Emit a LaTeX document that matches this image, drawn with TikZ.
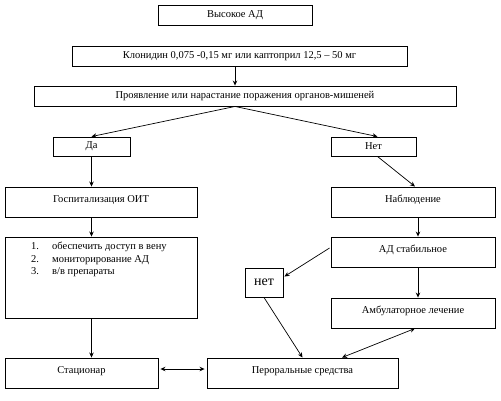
\documentclass[tikz,border=0pt]{standalone}
\usepackage{fontspec}
\setmainfont{Liberation Serif}
\usetikzlibrary{arrows.meta,calc}
\begin{document}
\begin{tikzpicture}[x=1pt,y=-1pt,
  box/.style={draw=black, line width=0.9pt, inner sep=0pt, font=\fontsize{10.5}{12}\selectfont},
  arr/.style={line width=0.7pt, -{Stealth[length=5pt,width=4.5pt]}},
  darr/.style={line width=0.7pt, {Stealth[length=5pt,width=4.5pt]}-{Stealth[length=5pt,width=4.5pt]}},
  up/.style={label={[font=\fontsize{10.5}{12}\selectfont, yshift=2pt]center:#1}}]
\useasboundingbox (0,0) rectangle (501,400);
\node[box, minimum width=154pt, minimum height=20pt] (b1) at (235,15) {Высокое АД};
\node[box, minimum width=335pt, minimum height=20pt] (b2) at (239.5,56) {Клонидин 0,075 -0,15 мг или каптоприл 12,5 – 50 мг};
\node[box, minimum width=422pt, minimum height=20pt] (b3) at (245,96) {Проявление или нарастание поражения органов-мишеней};
\node[box, minimum width=77pt, minimum height=19pt] (da) at (91.5,146.5) {Да};
\node[box, minimum width=85pt, minimum height=19pt] (net) at (373.5,146.5) {Нет};
\node[box, minimum width=192pt, minimum height=30pt, up={Госпитализация ОИТ}] (gosp) at (101,202) {};
\node[box, minimum width=192pt, minimum height=81pt] (list) at (101,277.5) {};
\node[anchor=north west, inner sep=0pt, font=\fontsize{10.5}{12.5}\selectfont, align=left] (items) at (31,242)
  {\makebox[21pt][l]{1.}обеспечить доступ в вену\\
   \makebox[21pt][l]{2.}мониторирование АД\\
   \makebox[21pt][l]{3.}в/в препараты};
\node[box, minimum width=153pt, minimum height=30pt, up={Стационар}] (stac) at (81.5,373) {};
\node[box, minimum width=191pt, minimum height=30pt, up={Пероральные средства}] (pero) at (302.5,373) {};
\node[box, minimum width=164pt, minimum height=30pt, up={Наблюдение}] (nabl) at (413,202) {};
\node[box, minimum width=164pt, minimum height=30pt, up={АД стабильное}] (adst) at (413,252) {};
\node[box, minimum width=38pt, minimum height=29pt, font=\fontsize{14}{16}\selectfont] (net2) at (264,282.5) {нет};
\node[box, minimum width=164pt, minimum height=30pt, up={Амбулаторное лечение}] (amb) at (413,313) {};
\draw[arr] (b2.south -| b1.center) -- (b3.north -| b1.center);
\draw[arr] (b3.south -| b1.center) -- (da.north);
\draw[arr] (b3.south -| b1.center) -- ($(net.north)+(4,0)$);
\draw[arr] (da.south) -- (da.south |- gosp.north);
\draw[arr] (gosp.south -| da.south) -- (list.north -| da.south);
\draw[arr] (list.south -| da.south) -- (stac.north -| da.south);
\draw[darr] ($(stac.east)+(2,-4)$) -- ($(pero.west)+(-2,-4)$);
\draw[arr] ($(net.south)+(4,0)$) -- ($(nabl.north)+(2,0)$);
\draw[arr] ($(nabl.south)+(5,0)$) -- ($(adst.north)+(5,0)$);
\draw[arr] ($(adst.west)+(-1,-4)$) -- ($(net2.east)+(1,-6)$);
\draw[arr] ($(adst.south)+(5,0)$) -- ($(amb.north)+(5,0)$);
\draw[arr] (net2.south) -- (pero.north);
\draw[darr] ($(amb.south)+(2,0)$) -- ($(pero.north)+(39.5,0)$);
\end{tikzpicture}
\end{document}
